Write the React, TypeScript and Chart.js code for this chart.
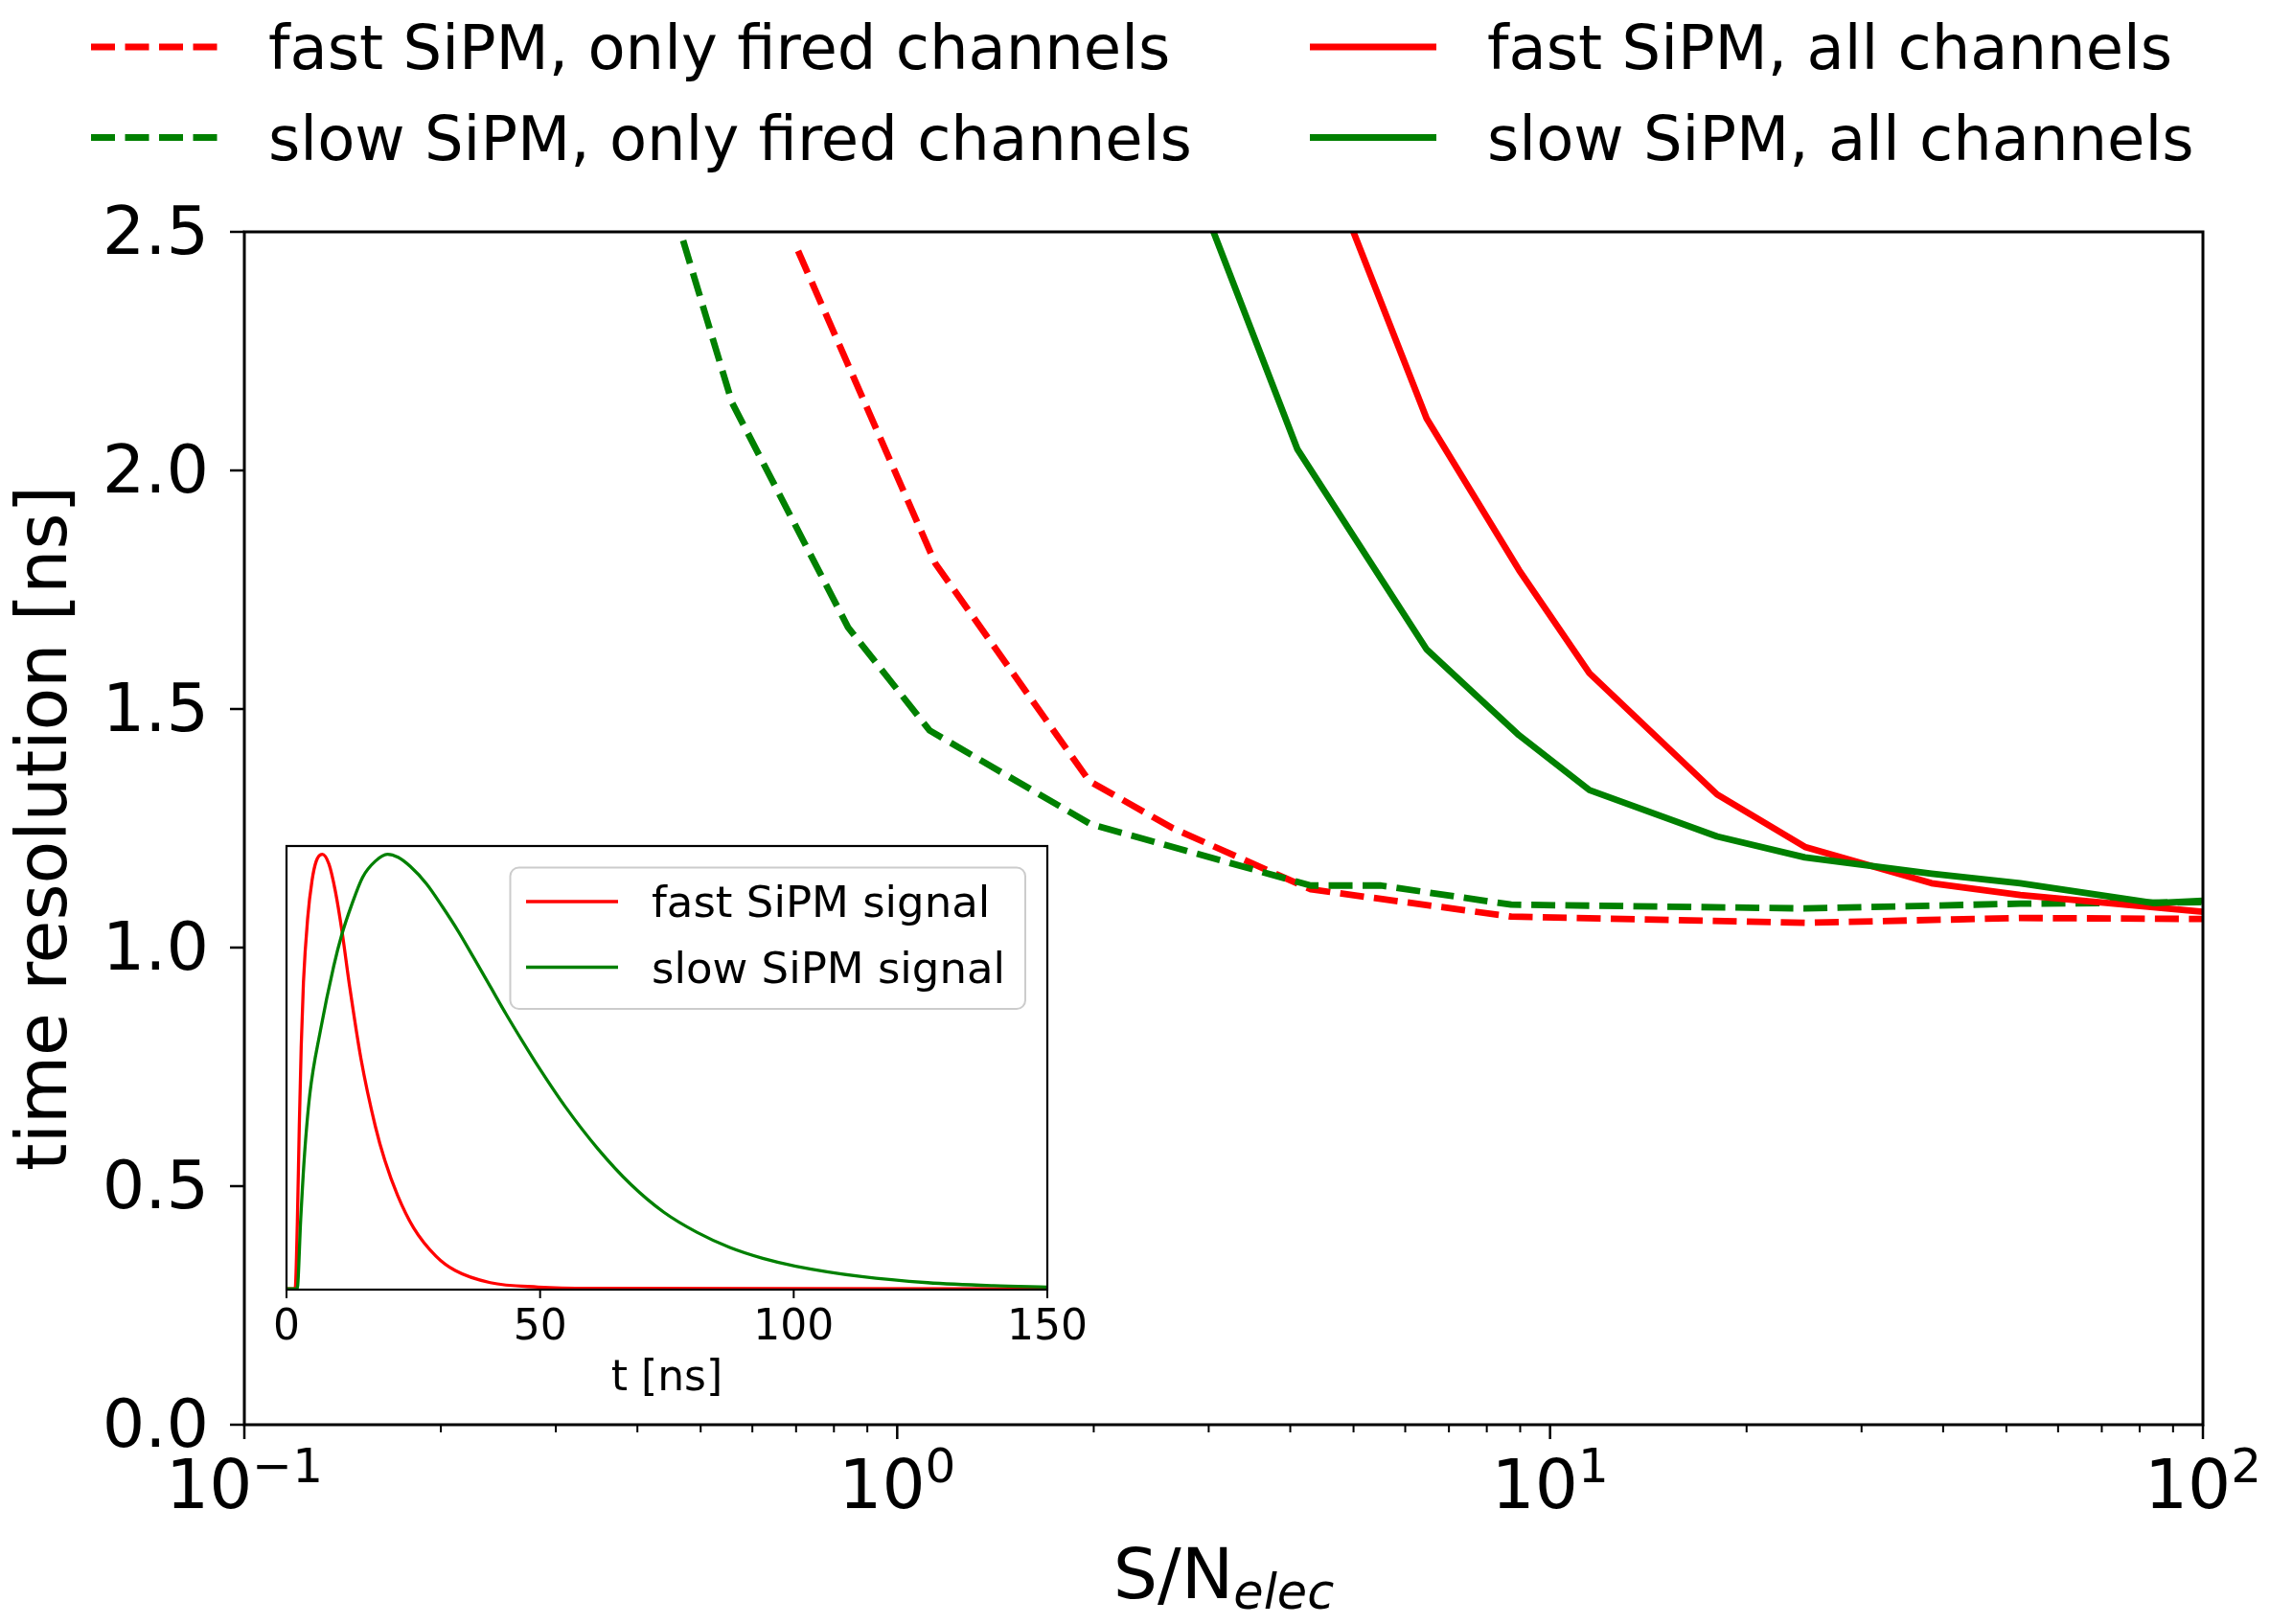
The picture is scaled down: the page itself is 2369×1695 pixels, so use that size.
import { useEffect, useRef } from "react";
import { Chart, registerables } from "chart.js";

Chart.register(...registerables);

const FONT = "'DejaVu Sans', sans-serif";
const RED = "#ff0000";
const GREEN = "#008000";
const W = 2369;
const H = 1695;

// main panel: time resolution vs S/N_elec
const seriesNames = [
  "fast SiPM, only fired channels",
  "slow SiPM, only fired channels",
  "fast SiPM, all channels",
  "slow SiPM, all channels",
];

const fastFiredSN = [0.705, 1.144, 1.969, 2.645, 4.3, 8.72, 24.57, 52.5, 100];
const fastFiredRes = [2.46, 1.805, 1.349, 1.25, 1.122, 1.065, 1.052, 1.062, 1.06];

const slowFiredSN = [0.47, 0.5585, 0.841, 1.121, 1.976, 4.3, 5.51, 8.72, 24.57, 52.5, 100];
const slowFiredRes = [2.482, 2.142, 1.671, 1.455, 1.259, 1.13, 1.13, 1.09, 1.082, 1.092, 1.095];

const fastAllSN = [4.1, 6.47, 8.965, 11.49, 18.02, 24.57, 38.4, 52.5, 100];
const fastAllRes = [2.8, 2.109, 1.791, 1.575, 1.321, 1.211, 1.135, 1.11, 1.075];

const slowAllSN = [2.645, 4.1, 6.47, 8.965, 11.49, 18.02, 24.57, 38.4, 52.5, 84.2, 100];
const slowAllRes = [2.72, 2.045, 1.625, 1.445, 1.33, 1.233, 1.189, 1.155, 1.135, 1.093, 1.098];

const yTicks = [0, 0.5, 1, 1.5, 2, 2.5];
const xMajor = [0.1, 1, 10, 100];
const xMajorExp = ["\u22121", "0", "1", "2"];
const xMinor = [
  0.2, 0.3, 0.4, 0.5, 0.6, 0.7, 0.8, 0.9,
  2, 3, 4, 5, 6, 7, 8, 9,
  20, 30, 40, 50, 60, 70, 80, 90,
];

// inset: normalised signal shapes
const insetNames = ["fast SiPM signal", "slow SiPM signal"];
const fastT = [0, 1.7, 2.14, 2.52, 2.9, 3.34, 4.16, 5.04, 5.86, 7.05, 8.38, 9.63, 10.9, 12.47, 14.67, 17.51, 19.4, 21.9, 25.07, 29.47, 33.25, 40.18, 49.6, 60, 150];
const fastSig = [0, 0, 0.154, 0.374, 0.558, 0.705, 0.851, 0.94, 0.984, 1.0, 0.977, 0.915, 0.826, 0.694, 0.53, 0.374, 0.295, 0.215, 0.14, 0.075, 0.042, 0.014, 0.004, 0.001, 0];
const slowT = [0, 2.1, 2.8, 3.5, 4.6, 6.7, 9.3, 10.9, 12.8, 15, 17.5, 19.9, 22, 24.4, 27.6, 30.7, 33.9, 37, 40.2, 43.3, 46.5, 49.6, 54.9, 61.4, 67.9, 74.4, 80.9, 87.4, 93.9, 100.4, 113.4, 126.4, 139.4, 150];
const slowSig = [0, 0, 0.16, 0.3, 0.448, 0.595, 0.742, 0.815, 0.882, 0.947, 0.984, 1.0, 0.993, 0.972, 0.932, 0.88, 0.822, 0.76, 0.695, 0.632, 0.57, 0.512, 0.42, 0.322, 0.24, 0.176, 0.13, 0.095, 0.07, 0.052, 0.028, 0.014, 0.007, 0.004];
const insetTicks = [0, 50, 100, 150];

const LW = 6.8;
const DASH = [25, 10.5];

const zip = (xs: number[], ys: number[]) => xs.map((x, i) => ({ x, y: ys[i] }));

// frame, ticks, 10^n labels, S/N_elec label and the legend on top
const mainDecor = {
  id: "mainDecor",
  afterDraw(chart: any) {
    const { ctx, chartArea: ca } = chart;
    const xs = chart.scales.x;
    const ys = chart.scales.y;
    ctx.save();
    ctx.strokeStyle = "#000";
    ctx.fillStyle = "#000";
    ctx.setLineDash([]);

    ctx.lineWidth = 3;
    ctx.strokeRect(ca.left, ca.top, ca.right - ca.left, ca.bottom - ca.top);

    ctx.lineWidth = 2.5;
    ctx.beginPath();
    yTicks.forEach((v) => {
      const p = ys.getPixelForValue(v);
      ctx.moveTo(ca.left - 15, p);
      ctx.lineTo(ca.left, p);
    });
    xMajor.forEach((v) => {
      const p = xs.getPixelForValue(v);
      ctx.moveTo(p, ca.bottom);
      ctx.lineTo(p, ca.bottom + 15);
    });
    ctx.stroke();
    ctx.lineWidth = 2;
    ctx.beginPath();
    xMinor.forEach((v) => {
      const p = xs.getPixelForValue(v);
      ctx.moveTo(p, ca.bottom);
      ctx.lineTo(p, ca.bottom + 8);
    });
    ctx.stroke();

    ctx.textAlign = "left";
    ctx.textBaseline = "alphabetic";
    xMajor.forEach((v, i) => {
      const p = xs.getPixelForValue(v);
      ctx.font = `71px ${FONT}`;
      const wb = ctx.measureText("10").width;
      ctx.font = `50px ${FONT}`;
      const we = ctx.measureText(xMajorExp[i]).width;
      const x0 = p - (wb + we) / 2;
      ctx.font = `71px ${FONT}`;
      ctx.fillText("10", x0, ca.bottom + 87);
      ctx.font = `50px ${FONT}`;
      ctx.fillText(xMajorExp[i], x0 + wb, ca.bottom + 60);
    });

    // x axis title S/N_elec
    ctx.font = `73px ${FONT}`;
    const wMain = ctx.measureText("S/N").width;
    ctx.font = `italic 51px ${FONT}`;
    const wSub = ctx.measureText("elec").width;
    const tx = (ca.left + ca.right) / 2 - (wMain + wSub) / 2;
    ctx.font = `73px ${FONT}`;
    ctx.fillText("S/N", tx, ca.bottom + 181);
    ctx.font = `italic 51px ${FONT}`;
    ctx.fillText("elec", tx + wMain, ca.bottom + 192);

    // legend above the axes, two columns
    const cols = [95, 1367];
    const rows = [49, 143.5];
    const entries = [
      { name: seriesNames[0], color: RED, dashed: true, c: 0, r: 0 },
      { name: seriesNames[1], color: GREEN, dashed: true, c: 0, r: 1 },
      { name: seriesNames[2], color: RED, dashed: false, c: 1, r: 0 },
      { name: seriesNames[3], color: GREEN, dashed: false, c: 1, r: 1 },
    ];
    entries.forEach((e) => {
      const x = cols[e.c];
      const y = rows[e.r];
      ctx.strokeStyle = e.color;
      ctx.lineWidth = LW;
      ctx.lineCap = "butt";
      ctx.setLineDash(e.dashed ? DASH : []);
      ctx.beginPath();
      ctx.moveTo(x, y);
      ctx.lineTo(x + 132, y);
      ctx.stroke();
      ctx.setLineDash([]);
      ctx.fillStyle = "#000";
      ctx.font = `64px ${FONT}`;
      ctx.fillText(e.name, x + 185, y + 23);
    });
    ctx.restore();
  },
};

const insetDecor = {
  id: "insetDecor",
  beforeDraw(chart: any) {
    const { ctx, chartArea: ca } = chart;
    ctx.save();
    ctx.fillStyle = "#fff";
    ctx.fillRect(ca.left, ca.top, ca.right - ca.left, ca.bottom - ca.top);
    ctx.restore();
  },
  afterDraw(chart: any) {
    const { ctx, chartArea: ca } = chart;
    const xs = chart.scales.x;
    ctx.save();
    ctx.strokeStyle = "#000";
    ctx.lineWidth = 2.2;
    ctx.strokeRect(ca.left, ca.top, ca.right - ca.left, ca.bottom - ca.top);
    ctx.lineWidth = 2;
    ctx.beginPath();
    insetTicks.forEach((v) => {
      const p = xs.getPixelForValue(v);
      ctx.moveTo(p, ca.bottom);
      ctx.lineTo(p, ca.bottom + 9);
    });
    ctx.stroke();

    // legend box
    const bx = ca.left + 233.5;
    const by = ca.top + 22.5;
    const bw = 537.5;
    const bh = 147.5;
    ctx.beginPath();
    ctx.roundRect(bx, by, bw, bh, 9);
    ctx.fillStyle = "rgba(255,255,255,0.8)";
    ctx.fill();
    ctx.strokeStyle = "#cccccc";
    ctx.lineWidth = 2;
    ctx.stroke();
    const colors = [RED, GREEN];
    insetNames.forEach((name, i) => {
      const y = by + 35.5 + i * 68.5;
      ctx.strokeStyle = colors[i];
      ctx.lineWidth = 3.3;
      ctx.beginPath();
      ctx.moveTo(bx + 16.5, y);
      ctx.lineTo(bx + 112.5, y);
      ctx.stroke();
      ctx.fillStyle = "#000";
      ctx.font = `45px ${FONT}`;
      ctx.textAlign = "left";
      ctx.textBaseline = "alphabetic";
      ctx.fillText(name, bx + 147.5, y + 16);
    });
    ctx.restore();
  },
};

export default function App() {
  const mainRef = useRef<HTMLCanvasElement>(null);
  const insetRef = useRef<HTMLCanvasElement>(null);

  useEffect(() => {
    if (!mainRef.current || !insetRef.current) return;

    const line = (label: string, data: any, color: string, dashed: boolean, order: number) => ({
      label,
      data,
      borderColor: color,
      backgroundColor: color,
      borderWidth: LW,
      borderDash: dashed ? DASH : [],
      borderJoinStyle: "round" as const,
      pointRadius: 0,
      tension: 0,
      fill: false,
      clip: 0,
      order,
    });

    const main = new Chart(mainRef.current, {
      type: "line",
      data: {
        datasets: [
          line(seriesNames[0], zip(fastFiredSN, fastFiredRes), RED, true, 3),
          line(seriesNames[1], zip(slowFiredSN, slowFiredRes), GREEN, true, 2),
          line(seriesNames[2], zip(fastAllSN, fastAllRes), RED, false, 1),
          line(seriesNames[3], zip(slowAllSN, slowAllRes), GREEN, false, 0),
        ],
      },
      options: {
        animation: false,
        responsive: false,
        events: [],
        layout: { padding: { left: 0, top: 242, right: 70, bottom: 0 } },
        plugins: { legend: { display: false }, tooltip: { enabled: false } },
        scales: {
          x: {
            type: "logarithmic",
            min: 0.1,
            max: 100,
            grid: { display: false, drawTicks: false },
            border: { display: false },
            ticks: { display: false },
            afterFit: (s: any) => {
              s.height = 208;
            },
          },
          y: {
            type: "linear",
            min: 0,
            max: 2.5,
            grid: { display: false, drawTicks: false },
            border: { display: false },
            ticks: {
              stepSize: 0.5,
              color: "#000",
              font: { family: FONT, size: 70 },
              padding: 37,
              labelOffset: 5,
              callback: (v: any) => Number(v).toFixed(1),
            },
            title: {
              display: true,
              text: "time resolution [ns]",
              color: "#000",
              font: { family: FONT, size: 73 },
              padding: { top: 6, bottom: 0 },
            },
            afterFit: (s: any) => {
              s.width = 255;
            },
          },
        },
      },
      plugins: [mainDecor],
    });

    const inset = new Chart(insetRef.current, {
      type: "line",
      data: {
        datasets: [
          {
            label: insetNames[0],
            data: zip(fastT, fastSig),
            borderColor: RED,
            borderWidth: 3.3,
            pointRadius: 0,
            cubicInterpolationMode: "monotone",
            fill: false,
            order: 1,
          },
          {
            label: insetNames[1],
            data: zip(slowT, slowSig),
            borderColor: GREEN,
            borderWidth: 3.3,
            pointRadius: 0,
            cubicInterpolationMode: "monotone",
            fill: false,
            order: 0,
          },
        ],
      },
      options: {
        animation: false,
        responsive: false,
        events: [],
        layout: { padding: { left: 149, top: 23, right: 57, bottom: 0 } },
        plugins: { legend: { display: false }, tooltip: { enabled: false } },
        scales: {
          x: {
            type: "linear",
            min: 0,
            max: 150,
            grid: { display: false, drawTicks: false },
            border: { display: false },
            ticks: {
              stepSize: 50,
              color: "#000",
              font: { family: FONT, size: 44 },
              padding: 14,
              maxRotation: 0,
            },
            title: {
              display: true,
              text: "t [ns]",
              color: "#000",
              font: { family: FONT, size: 44 },
              padding: { top: 0, bottom: 13.6 },
            },
            afterFit: (s: any) => {
              s.height = 134;
            },
          },
          y: { type: "linear", display: false, min: -0.002, max: 1.019 },
        },
      },
      plugins: [insetDecor],
    });

    return () => {
      main.destroy();
      inset.destroy();
    };
  }, []);

  return (
    <div style={{ position: "fixed", left: 0, top: 0, width: W, height: H, background: "#fff" }}>
      <canvas ref={mainRef} width={W} height={H} style={{ position: "absolute", left: 0, top: 0 }} />
      <canvas
        ref={insetRef}
        width={1000}
        height={620}
        style={{ position: "absolute", left: 150, top: 860 }}
      />
    </div>
  );
}
